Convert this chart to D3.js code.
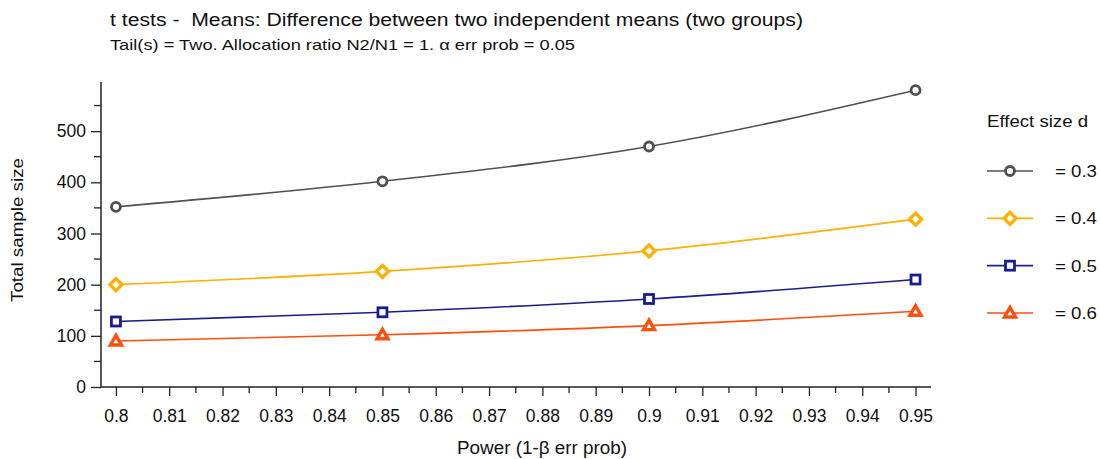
<!DOCTYPE html>
<html>
<head>
<meta charset="utf-8">
<script src="https://cdn.jsdelivr.net/npm/d3@7"></script>
<style>
  html, body { margin: 0; padding: 0; background: #fff; }
  svg { display: block; font-family: "Liberation Sans", Arial, sans-serif; }
</style>
</head>
<body>
<svg id="chart" width="1100" height="459"></svg>
<script>
// Power values on the x axis
const power = [0.8, 0.85, 0.9, 0.95];
// Total sample size for each effect size d
const n_d03 = [352, 402, 470, 580];
const n_d04 = [200, 226, 266, 328];
const n_d05 = [128, 146, 172, 210];
const n_d06 = [90, 102, 120, 148];
const effectLabels = ["= 0.3", "= 0.4", "= 0.5", "= 0.6"];
const xTickValues = [0.8, 0.81, 0.82, 0.83, 0.84, 0.85, 0.86, 0.87, 0.88, 0.89, 0.9, 0.91, 0.92, 0.93, 0.94, 0.95];
const yTickValues = [0, 100, 200, 300, 400, 500];

const seriesList = [
  { label: effectLabels[0], values: n_d03, color: "#505050", symbol: "circle" },
  { label: effectLabels[1], values: n_d04, color: "#FFB000", symbol: "diamond" },
  { label: effectLabels[2], values: n_d05, color: "#1A1E8C", symbol: "square" },
  { label: effectLabels[3], values: n_d06, color: "#FF4E0E", symbol: "triangle" }
];

const svg = d3.select("#chart");
const plot = { left: 101, right: 931, top: 82, bottom: 387 };

const x = d3.scaleLinear().domain([0.7972, 0.9529]).range([plot.left, plot.right]);
const y = d3.scaleLinear().domain([0, 596]).range([plot.bottom, plot.top]);

// Text helper: the labels are set in a slightly widened face
function label(sel, txt, size, width) {
  return sel.append("text").attr("font-size", size).attr("fill", "#111")
    .attr("textLength", width).attr("lengthAdjust", "spacingAndGlyphs").text(txt);
}

// Titles
label(svg, "t tests - \u00A0Means: Difference between two independent means (two groups)", 17.5, 693)
  .attr("x", 110).attr("y", 26);
label(svg, "Tail(s) = Two. Allocation ratio N2/N1 = 1. \u03B1 err prob = 0.05", 14.5, 465)
  .attr("x", 110).attr("y", 50);

// X axis: major and minor ticks
const xMinor = d3.range(0.805, 0.951, 0.01);
const gx = svg.append("g").attr("transform", `translate(0,${plot.bottom})`);
gx.append("line").attr("x1", plot.left).attr("x2", plot.right)
  .attr("stroke", "#222").attr("stroke-width", 1.5);
gx.selectAll("line.minor").data(xMinor).join("line").attr("class", "minor")
  .attr("x1", d => x(d)).attr("x2", d => x(d)).attr("y1", 0).attr("y2", 6)
  .attr("stroke", "#222").attr("stroke-width", 1.3);
const xAxis = d3.axisBottom(x).tickValues(xTickValues).tickSize(9).tickPadding(14)
  .tickFormat(d => d3.format("~g")(d));
const xa = svg.append("g").attr("transform", `translate(0,${plot.bottom})`).call(xAxis);
xa.select(".domain").remove();
xa.selectAll(".tick line").attr("stroke", "#222").attr("stroke-width", 1.3);
xa.selectAll(".tick text").attr("font-size", 17.5).attr("fill", "#111")
  .attr("font-family", "Liberation Sans, Arial, sans-serif");

// Y axis: major and minor ticks
const yMinor = d3.range(50, 596, 100);
const gy = svg.append("g").attr("transform", `translate(${plot.left},0)`);
gy.append("line").attr("y1", plot.top).attr("y2", plot.bottom)
  .attr("stroke", "#222").attr("stroke-width", 1.5);
gy.selectAll("line.minor").data(yMinor).join("line").attr("class", "minor")
  .attr("y1", d => y(d)).attr("y2", d => y(d)).attr("x1", 0).attr("x2", -7)
  .attr("stroke", "#222").attr("stroke-width", 1.3);
const yAxis = d3.axisLeft(y).tickValues(yTickValues).tickSize(10).tickPadding(5);
const ya = svg.append("g").attr("transform", `translate(${plot.left},0)`).call(yAxis);
ya.select(".domain").remove();
ya.selectAll(".tick line").attr("stroke", "#222").attr("stroke-width", 1.3);
ya.selectAll(".tick text").attr("font-size", 17.5).attr("fill", "#111")
  .attr("font-family", "Liberation Sans, Arial, sans-serif");

// Axis titles
label(svg, "Power (1-\u03B2 err prob)", 17.5, 170).attr("x", 457).attr("y", 454);
label(svg, "Total sample size", 16.5, 144)
  .attr("transform", `translate(23,${230 + 144 / 2}) rotate(-90)`);

// Marker shapes
function drawMarker(g, symbol, cx, cy, color) {
  if (symbol === "circle") {
    g.append("circle").attr("cx", cx).attr("cy", cy).attr("r", 4.5)
      .attr("fill", "#fff").attr("stroke", color).attr("stroke-width", 2.8);
  } else if (symbol === "diamond") {
    const s = 6;
    g.append("path").attr("d", `M${cx},${cy - s}L${cx + s},${cy}L${cx},${cy + s}L${cx - s},${cy}Z`)
      .attr("fill", "#fff").attr("stroke", color).attr("stroke-width", 3.4);
  } else if (symbol === "square") {
    const s = 4.5;
    g.append("rect").attr("x", cx - s).attr("y", cy - s).attr("width", 2 * s).attr("height", 2 * s)
      .attr("fill", "#fff").attr("stroke", color).attr("stroke-width", 2.8);
  } else if (symbol === "triangle") {
    g.append("path").attr("d", `M${cx},${cy - 5.5}L${cx + 5.5},${cy + 4}L${cx - 5.5},${cy + 4}Z`)
      .attr("fill", "#fff").attr("stroke", color).attr("stroke-width", 3.4)
      .attr("stroke-linejoin", "miter");
  }
}

// Series curves and markers
const line = d3.line().x(d => x(d[0])).y(d => y(d[1])).curve(d3.curveMonotoneX);
seriesList.forEach(s => {
  const pts = power.map((p, i) => [p, s.values[i]]);
  svg.append("path").datum(pts).attr("d", line)
    .attr("fill", "none").attr("stroke", s.color).attr("stroke-width", 1.6);
  const gm = svg.append("g");
  pts.forEach(p => drawMarker(gm, s.symbol, x(p[0]), y(p[1]), s.color));
});

// Legend
label(svg, "Effect size d", 16, 101).attr("x", 987).attr("y", 127);
const legendY = d3.scalePoint().domain(effectLabels).range([171, 313]);
seriesList.forEach(s => {
  const ly = legendY(s.label);
  const g = svg.append("g");
  g.append("line").attr("x1", 987).attr("x2", 1033).attr("y1", ly).attr("y2", ly)
    .attr("stroke", s.color).attr("stroke-width", 1.6);
  drawMarker(g, s.symbol, 1010, ly, s.color);
  label(g, s.label, 16.5, 42).attr("x", 1055).attr("y", ly + 6);
});
</script>
</body>
</html>
